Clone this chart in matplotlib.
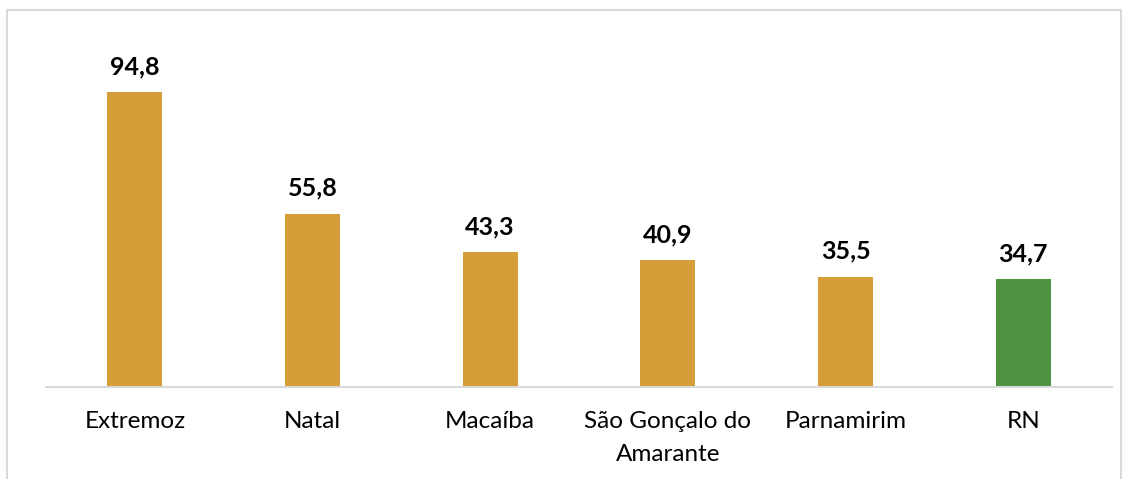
import matplotlib.pyplot as plt
from matplotlib.patches import Rectangle

plt.rcParams['font.family'] = ['Lato', 'DejaVu Sans']

categories = ['Extremoz', 'Natal', 'Macaíba', 'São Gonçalo do\nAmarante', 'Parnamirim', 'RN']
values = [94.8, 55.8, 43.3, 40.9, 35.5, 34.7]
labels = ['94,8', '55,8', '43,3', '40,9', '35,5', '34,7']
colors = ['#D69E38'] * 5 + ['#4E9340']

fig = plt.figure(figsize=(11.29, 4.79), dpi=100)
ax = fig.add_axes([46 / 1129, 0.192, 1066 / 1129, 0.649])

# outer chart frame (bottom edge falls outside the image)
fig.patches.append(Rectangle((7 / 1129, -0.05), 1114 / 1129, 1.05 - 10 / 479,
                             transform=fig.transFigure, fill=False,
                             edgecolor='#d9d9d9', linewidth=1.5))

x = range(len(categories))
ax.bar(x, values, width=0.31, color=colors)
for i, v in enumerate(values):
    ax.annotate(labels[i], (i, v), xytext=(0, 10), textcoords='offset points',
                ha='center', va='bottom', fontsize=18, fontweight='bold')

ax.set_xlim(-0.5, len(categories) - 0.5)
ax.set_ylim(0, 100)
ax.set_yticks([])
ax.set_xticks(list(x))
ax.set_xticklabels(categories, fontsize=17.5, linespacing=1.7)
ax.tick_params(axis='x', length=0, pad=17)
for s in ['top', 'right', 'left']:
    ax.spines[s].set_visible(False)
ax.spines['bottom'].set_color('#d9d9d9')
ax.spines['bottom'].set_linewidth(1.5)

fig.savefig('out.png', dpi=100)
